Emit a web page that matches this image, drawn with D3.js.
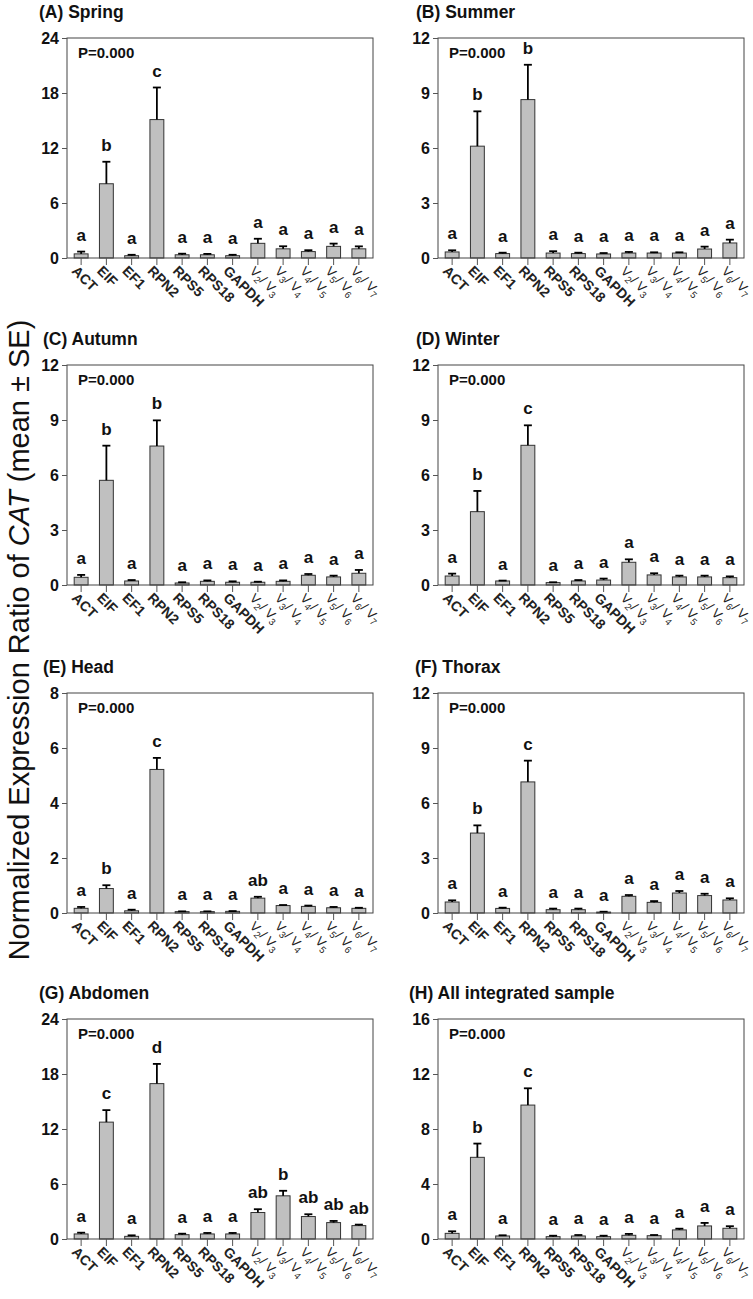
<!DOCTYPE html>
<html><head><meta charset="utf-8">
<script src="https://cdn.jsdelivr.net/npm/d3@7"></script>
<style>body{margin:0;background:#fff} text{font-family:"Liberation Sans",Arial,sans-serif}</style>
</head><body>
<svg id="c" width="753" height="1299"></svg>
<script>
const categories = ["ACT","EIF","EF1","RPN2","RPS5","RPS18","GAPDH","V2/V3","V3/V4","V4/V5","V5/V6","V6/V7"];

const springMean = [0.45, 8.1, 0.25, 15.1, 0.35, 0.35, 0.25, 1.6, 1.0, 0.7, 1.27, 1.0];
const springSE   = [0.25, 2.4, 0.1, 3.5, 0.12, 0.1, 0.1, 0.5, 0.28, 0.15, 0.3, 0.27];
const springLetters = ["a","b","a","c","a","a","a","a","a","a","a","a"];
const springTicks = [0, 6, 12, 18, 24];

const summerMean = [0.33, 6.1, 0.24, 8.64, 0.27, 0.24, 0.22, 0.27, 0.27, 0.27, 0.49, 0.82];
const summerSE   = [0.09, 1.9, 0.05, 1.9, 0.1, 0.05, 0.05, 0.06, 0.04, 0.04, 0.13, 0.18];
const summerLetters = ["a","b","a","b","a","a","a","a","a","a","a","a"];
const summerTicks = [0, 3, 6, 9, 12];

const autumnMean = [0.42, 5.71, 0.22, 7.58, 0.11, 0.2, 0.15, 0.15, 0.2, 0.53, 0.44, 0.64];
const autumnSE   = [0.13, 1.89, 0.05, 1.4, 0.04, 0.05, 0.05, 0.03, 0.05, 0.07, 0.07, 0.18];
const autumnLetters = ["a","b","a","b","a","a","a","a","a","a","a","a"];
const autumnTicks = [0, 3, 6, 9, 12];

const winterMean = [0.49, 4.0, 0.22, 7.62, 0.13, 0.22, 0.27, 1.24, 0.55, 0.44, 0.44, 0.4];
const winterSE   = [0.13, 1.13, 0.02, 1.09, 0.02, 0.05, 0.08, 0.16, 0.09, 0.07, 0.07, 0.07];
const winterLetters = ["a","b","a","c","a","a","a","a","a","a","a","a"];
const winterTicks = [0, 3, 6, 9, 12];

const headMean = [0.17, 0.89, 0.08, 5.22, 0.05, 0.05, 0.06, 0.54, 0.27, 0.24, 0.19, 0.17];
const headSE   = [0.05, 0.12, 0.04, 0.42, 0.01, 0.01, 0.01, 0.05, 0.02, 0.03, 0.03, 0.02];
const headLetters = ["a","b","a","c","a","a","a","ab","a","a","a","a"];
const headTicks = [0, 2, 4, 6, 8];

const thoraxMean = [0.6, 4.36, 0.25, 7.15, 0.18, 0.18, 0.05, 0.91, 0.58, 1.09, 0.95, 0.71];
const thoraxSE   = [0.09, 0.42, 0.04, 1.16, 0.06, 0.06, 0.02, 0.07, 0.07, 0.11, 0.1, 0.09];
const thoraxLetters = ["a","b","a","c","a","a","a","a","a","a","a","a"];
const thoraxTicks = [0, 3, 6, 9, 12];

const abdomenMean = [0.55, 12.75, 0.29, 16.95, 0.47, 0.55, 0.55, 2.89, 4.71, 2.45, 1.79, 1.46];
const abdomenSE   = [0.14, 1.31, 0.11, 2.15, 0.11, 0.11, 0.11, 0.36, 0.55, 0.25, 0.18, 0.11];
const abdomenLetters = ["a","c","a","d","a","a","a","ab","b","ab","ab","ab"];
const abdomenTicks = [0, 6, 12, 18, 24];

const allMean = [0.41, 5.94, 0.22, 9.74, 0.17, 0.22, 0.17, 0.27, 0.24, 0.66, 0.95, 0.78];
const allSE   = [0.15, 1.0, 0.05, 1.22, 0.07, 0.07, 0.07, 0.1, 0.05, 0.09, 0.22, 0.15];
const allLetters = ["a","b","a","c","a","a","a","a","a","a","a","a"];
const allTicks = [0, 4, 8, 12, 16];

const panels = [
  {title:"(A) Spring", mean:springMean, se:springSE, letters:springLetters, ticks:springTicks},
  {title:"(B) Summer", mean:summerMean, se:summerSE, letters:summerLetters, ticks:summerTicks},
  {title:"(C) Autumn", mean:autumnMean, se:autumnSE, letters:autumnLetters, ticks:autumnTicks},
  {title:"(D) Winter", mean:winterMean, se:winterSE, letters:winterLetters, ticks:winterTicks},
  {title:"(E) Head", mean:headMean, se:headSE, letters:headLetters, ticks:headTicks},
  {title:"(F) Thorax", mean:thoraxMean, se:thoraxSE, letters:thoraxLetters, ticks:thoraxTicks},
  {title:"(G) Abdomen", mean:abdomenMean, se:abdomenSE, letters:abdomenLetters, ticks:abdomenTicks},
  {title:"(H) All integrated sample", mean:allMean, se:allSE, letters:allLetters, ticks:allTicks}
];

// layout
const colLeft = [67, 438];
const rowTop = [38, 365, 693, 1019];
const titleX = [39, 416, 43, 416, 43, 415, 39, 409];
const W = 306, H = 220;

const svg = d3.select("#c");

panels.forEach((p, i) => {
  const left = colLeft[i % 2], top = rowTop[Math.floor(i / 2)];
  const g = svg.append("g").attr("transform", `translate(${left},${top})`);
  const x = d3.scaleBand().domain(categories).range([0, W]).paddingInner(0.45).paddingOuter(0.285);
  const yMax = p.ticks[p.ticks.length - 1];
  const y = d3.scaleLinear().domain([0, yMax]).range([H, 0]);

  // title
  svg.append("text").attr("x", titleX[i]).attr("y", top - 20)
    .attr("font-size", 17.5).attr("font-weight", "bold").attr("fill", "#111").text(p.title);

  // bars
  g.selectAll("rect.bar").data(categories).join("rect")
    .attr("x", d => x(d)).attr("width", x.bandwidth())
    .attr("y", (d, j) => y(p.mean[j])).attr("height", (d, j) => H - y(p.mean[j]))
    .attr("fill", "#c0c0c0").attr("stroke", "#333").attr("stroke-width", 1);

  // error bars
  const eb = g.selectAll("g.eb").data(categories).join("g");
  eb.append("line")
    .attr("x1", d => x(d) + x.bandwidth() / 2).attr("x2", d => x(d) + x.bandwidth() / 2)
    .attr("y1", (d, j) => y(p.mean[j])).attr("y2", (d, j) => y(p.mean[j] + p.se[j]))
    .attr("stroke", "#000").attr("stroke-width", 1.8);
  eb.append("line")
    .attr("x1", d => x(d) + x.bandwidth() / 2 - 4).attr("x2", d => x(d) + x.bandwidth() / 2 + 4)
    .attr("y1", (d, j) => y(p.mean[j] + p.se[j])).attr("y2", (d, j) => y(p.mean[j] + p.se[j]))
    .attr("stroke", "#000").attr("stroke-width", 1.8);

  // letters
  g.selectAll("text.lt").data(categories).join("text")
    .attr("x", d => x(d) + x.bandwidth() / 2)
    .attr("y", (d, j) => y(p.mean[j] + p.se[j]) - 11)
    .attr("text-anchor", "middle").attr("font-size", 17).attr("font-weight", "bold").attr("fill", "#111")
    .text((d, j) => p.letters[j]);

  // frame
  g.append("rect").attr("x", 0).attr("y", 0).attr("width", W).attr("height", H)
    .attr("fill", "none").attr("stroke", "#444").attr("stroke-width", 1);

  // y axis
  const ya = g.append("g").call(d3.axisLeft(y).tickValues(p.ticks).tickSize(5).tickPadding(3).tickFormat(d3.format("d")));
  ya.select(".domain").remove();
  ya.selectAll("line").attr("stroke", "#555");
  ya.selectAll("text").attr("font-size", 16).attr("font-weight", "bold").attr("fill", "#111")
    .attr("font-family", '"Liberation Sans",Arial,sans-serif');

  // x axis
  const xa = g.append("g").attr("transform", `translate(0,${H})`)
    .call(d3.axisBottom(x).tickSize(7).tickFormat(""));
  xa.select(".domain").remove();
  xa.selectAll("line").attr("stroke", "#555");

  // x labels
  const lab = g.selectAll("text.xl").data(categories).join("text")
    .attr("transform", d => `translate(${x(d) + x.bandwidth() / 2},${H + 8}) rotate(45)`)
    .attr("dy", "0.8em").attr("fill", "#222");
  lab.each(function(d) {
    const t = d3.select(this);
    if (d.startsWith("V")) {
      const [a, b] = d.split("/");
      t.attr("font-size", 13).attr("font-weight", "normal").attr("dx", -2);
      t.append("tspan").attr("fill", "#222").text("V");
      t.append("tspan").attr("fill", "#222").attr("font-size", 9.5).attr("dy", 3).text(a.slice(1));
      t.append("tspan").attr("fill", "#222").attr("dy", -3).text("/ V");
      t.append("tspan").attr("fill", "#222").attr("font-size", 9.5).attr("dy", 3).text(b.slice(1));
    } else {
      t.attr("font-size", 14).attr("font-weight", "bold").attr("dx", -3).text(d);
    }
  });

  // P value
  g.append("text").attr("x", 11).attr("y", 20).attr("font-size", 15).attr("font-weight", "bold")
    .attr("fill", "#111").text("P=0.000");
});

// global y title
const yt = svg.append("text").attr("transform", "translate(29,640) rotate(-90)")
  .attr("text-anchor", "middle").attr("font-size", 29).attr("fill", "#111");
yt.append("tspan").text("Normalized Expression Ratio of ");
yt.append("tspan").attr("font-style", "italic").text("CAT");
yt.append("tspan").text(" (mean ± SE)");
</script>
</body></html>
